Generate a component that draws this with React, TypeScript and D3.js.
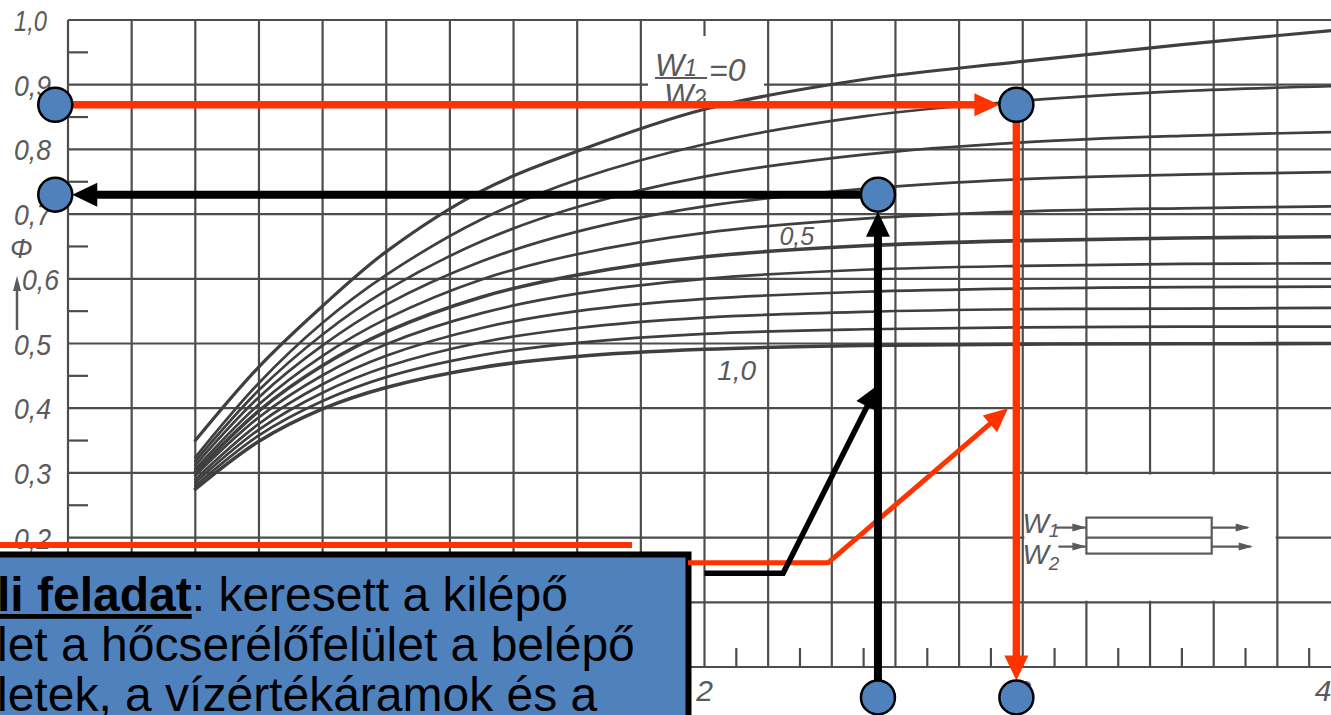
import React from "react";
import * as d3 from "d3";

// ---- data ----
const NTU = [0.4, 0.6, 0.8, 1.0, 1.3, 1.6, 2.0, 2.5, 3.0, 3.5, 4.0];
const RATIOS = [0, 0.1, 0.2, 0.3, 0.4, 0.5, 0.6, 0.7, 0.8, 0.9, 1.0];
const PHI_00 = [0.350, 0.464, 0.558, 0.642, 0.736, 0.797, 0.862, 0.908, 0.936, 0.962, 0.985];
const PHI_01 = [0.324, 0.439, 0.532, 0.606, 0.692, 0.753, 0.808, 0.851, 0.875, 0.890, 0.898];
const PHI_02 = [0.318, 0.428, 0.514, 0.582, 0.658, 0.711, 0.758, 0.792, 0.811, 0.821, 0.827];
const PHI_03 = [0.312, 0.417, 0.497, 0.560, 0.627, 0.673, 0.712, 0.739, 0.754, 0.761, 0.765];
const PHI_04 = [0.306, 0.406, 0.481, 0.538, 0.599, 0.638, 0.671, 0.693, 0.704, 0.709, 0.712];
const PHI_05 = [0.301, 0.396, 0.466, 0.518, 0.572, 0.606, 0.634, 0.651, 0.659, 0.663, 0.665];
const PHI_06 = [0.296, 0.386, 0.451, 0.499, 0.547, 0.577, 0.600, 0.614, 0.620, 0.623, 0.624];
const PHI_07 = [0.290, 0.376, 0.437, 0.481, 0.524, 0.550, 0.569, 0.580, 0.585, 0.587, 0.588];
const PHI_08 = [0.285, 0.367, 0.424, 0.464, 0.502, 0.524, 0.540, 0.549, 0.553, 0.554, 0.555];
const PHI_09 = [0.280, 0.358, 0.411, 0.448, 0.482, 0.501, 0.515, 0.522, 0.525, 0.526, 0.526];
const PHI_10 = [0.275, 0.349, 0.399, 0.432, 0.463, 0.480, 0.491, 0.497, 0.499, 0.4995, 0.500];
const CURVES = [PHI_00, PHI_01, PHI_02, PHI_03, PHI_04, PHI_05, PHI_06, PHI_07, PHI_08, PHI_09, PHI_10];

// visible tick labels (the lower ones are hidden under the callout box)
const Y_TICKS = [0.2, 0.3, 0.4, 0.5, 0.6, 0.7, 0.8, 0.9, 1.0];
const Y_LABELS = ["0,2", "0,3", "0,4", "0,5", "0,6", "0,7", "0,8", "0,9", "1,0"];
const X_TICKS = [2, 3, 4];
const X_LABELS = ["2", "3", "4"];
const H_GRID = [0, 0.1, 0.2, 0.3, 0.4, 0.5, 0.6, 0.7, 0.8, 0.9, 1.0];

// worked example (read-off path)
const PHI_OUT = 0.869;
const NTU_READ = 2.98;
const PHI_RESULT = 0.73;
const NTU_GIVEN = 2.545;
const EDGE_NTU = -0.04;
const EDGE_PHI = -0.047;
const RED_PATH = [[1.948, 0.161], [2.388, 0.161], [2.954, 0.4]];
const BLACK_PATH = [[2.0, 0.145], [2.247, 0.145], [2.545, 0.436]];

const BOX_LINES = [
  { bold: "li feladat", rest: ": keresett a kilépő" },
  { bold: "", rest: "let a hőcserélőfelület a belépő" },
  { bold: "", rest: "letek, a vízértékáramok és a" },
];

const W = 1331;
const H = 715;
const RED = "#ff3300";
const BLUE = "#4f81bd";
const GRID = "#4d4d4d";
const INK = "#5a5a5a";
const LF = "'Liberation Sans', Arial, sans-serif";

function head(x1: number, y1: number, x2: number, y2: number, len: number, wid: number) {
  const dx = x2 - x1, dy = y2 - y1;
  const L = Math.hypot(dx, dy);
  const ux = dx / L, uy = dy / L;
  const bx = x2 - ux * len, by = y2 - uy * len;
  const px = -uy, py = ux;
  return {
    bx: x2 - ux * (len - 2),
    by: y2 - uy * (len - 2),
    pts: `${x2},${y2} ${bx + (px * wid) / 2},${by + (py * wid) / 2} ${bx - (px * wid) / 2},${by - (py * wid) / 2}`,
  };
}

export default function App() {
  const x = d3.scaleLinear().domain([0, 4]).range([68, 1341]);
  const y = d3.scaleLinear().domain([0, 1]).range([667, 20]);

  const line = d3
    .line<number>()
    .x((_, i) => x(NTU[i]))
    .y((d) => y(d))
    .curve(d3.curveCatmullRom.alpha(0.5));

  const vGrid = d3.range(0, 21).map((i) => i * 0.2);
  const xMinor = d3.range(0, 20).map((i) => 0.1 + i * 0.2);
  const yMinor = d3.range(0, 10).map((i) => 0.05 + i * 0.1);

  const R = 17;
  const redH = { x1: x(EDGE_NTU), y1: y(PHI_OUT), x2: x(NTU_READ) - R, y2: y(PHI_OUT) };
  const redHh = head(redH.x1, redH.y1, redH.x2, redH.y2, 25, 23);
  const redV = { x1: x(NTU_READ), y1: y(PHI_OUT), x2: x(NTU_READ), y2: y(EDGE_PHI) - R };
  const redVh = head(redV.x1, redV.y1, redV.x2, redV.y2, 25, 24);
  const blkH = { x1: x(NTU_GIVEN), y1: y(PHI_RESULT), x2: x(EDGE_NTU) + R, y2: y(PHI_RESULT) };
  const blkHh = head(blkH.x1, blkH.y1, blkH.x2, blkH.y2, 25, 24);
  const blkV = { x1: x(NTU_GIVEN), y1: y(EDGE_PHI), x2: x(NTU_GIVEN), y2: y(PHI_RESULT) + R };
  const blkVh = head(blkV.x1, blkV.y1, blkV.x2, blkV.y2, 25, 24);

  const rp = RED_PATH.map(([n, p]) => [x(n), y(p)]);
  const rph = head(rp[1][0], rp[1][1], rp[2][0], rp[2][1], 24, 22);
  const bp = BLACK_PATH.map(([n, p]) => [x(n), y(p)]);
  const bph = head(bp[1][0], bp[1][1], bp[2][0], bp[2][1], 24, 24);

  const circles = [
    [x(EDGE_NTU), y(PHI_OUT)],
    [x(EDGE_NTU), y(PHI_RESULT)],
    [x(NTU_GIVEN), y(PHI_RESULT)],
    [x(NTU_READ), y(PHI_OUT)],
    [x(NTU_GIVEN), y(EDGE_PHI)],
    [x(NTU_READ), y(EDGE_PHI)],
  ];

  const sx = x(3.2);
  const sy = y(0.2);

  return (
    <svg
      width={W}
      height={H}
      style={{ position: "absolute", left: 0, top: 0, display: "block" }}
    >
      <rect x={0} y={0} width={W} height={H} fill="#fff" />

      {/* grid */}
      <g stroke={GRID} strokeWidth={2.2}>
        {vGrid.map((v) => (
          <line key={"v" + v} x1={x(v)} x2={x(v)} y1={y(1)} y2={y(0)} />
        ))}
        {H_GRID.map((v) => (
          <line key={"h" + v} x1={x(0)} x2={W} y1={y(v)} y2={y(v)} />
        ))}
        {xMinor.map((v) => (
          <line key={"xm" + v} x1={x(v)} x2={x(v)} y1={y(0)} y2={y(0) - 19} />
        ))}
        {yMinor.map((v) => (
          <line key={"ym" + v} x1={x(0)} x2={x(0) + 20} y1={y(v)} y2={y(v)} />
        ))}
      </g>

      {/* blank areas */}
      <rect x={x(3.0) + 1.6} y={y(0.3) + 1.6} width={x(3.8) - x(3.0) - 3.2} height={y(0.1) - y(0.3) - 3.2} fill="#fff" />
      <rect x={648} y={36} width={116} height={62} fill="#fff" />

      {/* curves */}
      <g fill="none" stroke="#3f3f3f" strokeLinecap="round">
        {CURVES.map((c, i) => (
          <path
            key={"c" + i}
            d={line(c) || ""}
            strokeWidth={RATIOS[i] === 0.5 || RATIOS[i] === 1.0 ? 3.6 : RATIOS[i] === 0 ? 3.2 : 2.7}
          />
        ))}
      </g>

      {/* axis labels */}
      <g fontFamily={LF} fontStyle="italic" fill={INK} fontSize={30}>
        {Y_TICKS.map((v, i) => (
          <text key={"yl" + v} x={v === 0.6 ? 22 : 14} y={y(v) + 11} textLength={v === 1.0 ? 33 : 37} lengthAdjust="spacingAndGlyphs">
            {Y_LABELS[i]}
          </text>
        ))}
        {X_TICKS.map((v, i) => (
          <text key={"xl" + v} x={x(v) + (v === 4 ? -18 : 0)} y={y(0) + 34} textAnchor="middle">
            {X_LABELS[i]}
          </text>
        ))}
        <text x={10} y={258} fontSize={27}>Φ</text>
        <text x={x(2.29)} y={y(0.652)} fontSize={25} textAnchor="middle">0,5</text>
        <text x={x(2.04)} y={y(0.444)} fontSize={28}>1,0</text>
        <text x={655} y={76} fontSize={31}>
          W<tspan fontSize={23}>1</tspan>
        </text>
        <text x={664} y={106} fontSize={31}>
          W<tspan fontSize={23}>2</tspan>
        </text>
        <text x={709} y={81} fontSize={32}>=0</text>
        <text x={sx - 64} y={sy - 5} fontSize={28}>
          W<tspan fontSize={19} dy={4}>1</tspan>
        </text>
        <text x={sx - 64} y={sy + 26} fontSize={28}>
          W<tspan fontSize={19} dy={6}>2</tspan>
        </text>
      </g>
      <line x1={655} x2={707} y1={78} y2={78} stroke={INK} strokeWidth={2} />
      <line x1={17} x2={17} y1={330} y2={286} stroke={INK} strokeWidth={2.5} />
      <polygon points="17,276 13,291 21,291" fill={INK} />

      {/* schematic */}
      <g stroke={INK} strokeWidth={2.2} fill="none">
        <rect x={sx} y={sy - 20} width={x(3.6) - sx - 2} height={36} />
        <line x1={sx} x2={x(3.6) - 2} y1={sy} y2={sy} />
        <line x1={sx - 31} x2={sx} y1={sy - 10} y2={sy - 10} />
        <line x1={sx - 28} x2={sx} y1={sy + 9} y2={sy + 9} />
        <line x1={x(3.6) - 2} x2={x(3.6) + 34} y1={sy - 10} y2={sy - 10} />
        <line x1={x(3.6) - 2} x2={x(3.6) + 37} y1={sy + 9} y2={sy + 9} />
      </g>
      <g fill={INK}>
        <polygon points={`${sx},${sy - 10} ${sx - 14},${sy - 14} ${sx - 14},${sy - 6}`} />
        <polygon points={`${sx},${sy + 9} ${sx - 14},${sy + 5} ${sx - 14},${sy + 13}`} />
        <polygon points={`${x(3.6) + 36},${sy - 10} ${x(3.6) + 22},${sy - 14} ${x(3.6) + 22},${sy - 6}`} />
        <polygon points={`${x(3.6) + 39},${sy + 9} ${x(3.6) + 25},${sy + 5} ${x(3.6) + 25},${sy + 13}`} />
      </g>

      {/* red strip above the box */}
      <line x1={0} x2={632} y1={545} y2={545} stroke={RED} strokeWidth={6} />

      {/* callout box */}
      <rect x={-20} y={554.5} width={708.5} height={200} fill={BLUE} stroke="#000" strokeWidth={6} />
      <g fontFamily={LF} fontSize={48} fill="#000">
        {BOX_LINES.map((l, i) => (
          <text key={"bl" + i} x={-3} y={611 + i * 50}>
            {l.bold ? (
              <tspan fontWeight="bold" textDecoration="underline">
                {l.bold}
              </tspan>
            ) : null}
            {l.rest}
          </text>
        ))}
      </g>

      {/* connector lines from the box */}
      <polyline
        points={`${rp[0][0]},${rp[0][1]} ${rp[1][0]},${rp[1][1]} ${rph.bx},${rph.by}`}
        fill="none"
        stroke={RED}
        strokeWidth={5}
      />
      <polygon points={rph.pts} fill={RED} />
      <polyline
        points={`${bp[0][0]},${bp[0][1]} ${bp[1][0]},${bp[1][1]} ${bph.bx},${bph.by}`}
        fill="none"
        stroke="#000"
        strokeWidth={5.5}
      />
      <polygon points={bph.pts} fill="#000" />

      {/* main read-off arrows */}
      <line x1={redH.x1} y1={redH.y1} x2={redHh.bx} y2={redHh.by} stroke={RED} strokeWidth={7.5} />
      <polygon points={redHh.pts} fill={RED} />
      <line x1={redV.x1} y1={redV.y1} x2={redVh.bx} y2={redVh.by} stroke={RED} strokeWidth={7.5} />
      <polygon points={redVh.pts} fill={RED} />
      <line x1={blkH.x1} y1={blkH.y1} x2={blkHh.bx} y2={blkHh.by} stroke="#000" strokeWidth={8} />
      <polygon points={blkHh.pts} fill="#000" />
      <line x1={blkV.x1} y1={blkV.y1} x2={blkVh.bx} y2={blkVh.by} stroke="#000" strokeWidth={8} />
      <polygon points={blkVh.pts} fill="#000" />

      {circles.map(([cx, cy], i) => (
        <circle key={"pt" + i} cx={cx} cy={cy} r={R} fill={BLUE} stroke="#000" strokeWidth={2.5} />
      ))}
    </svg>
  );
}
